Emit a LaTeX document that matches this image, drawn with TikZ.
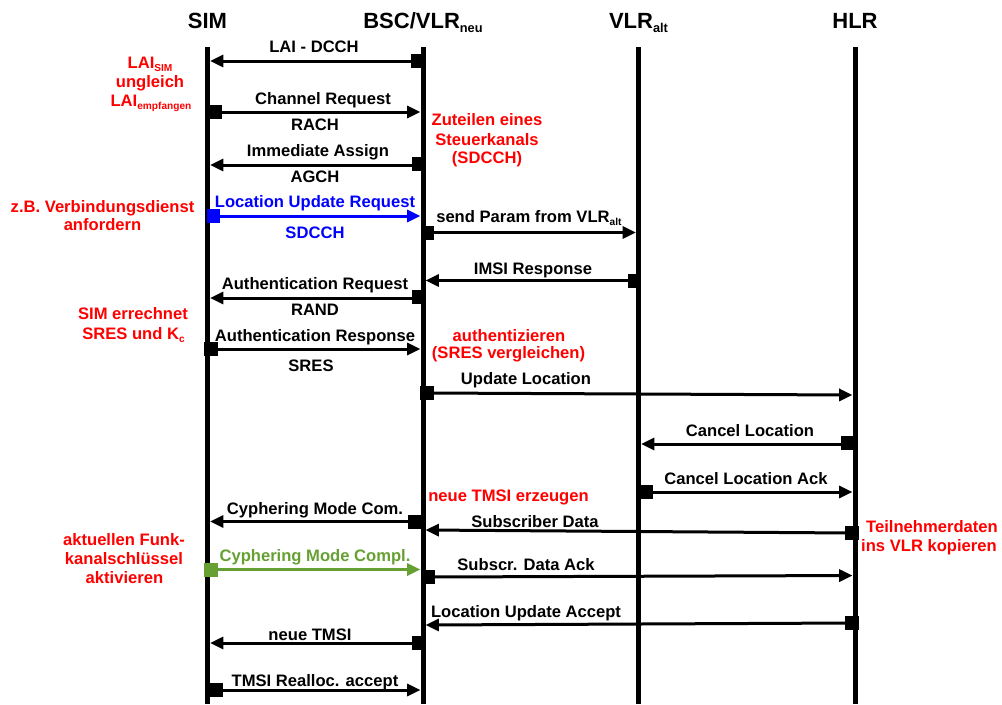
\documentclass[tikz,border=0pt]{standalone}
\usepackage{fontspec}
\setmainfont{Liberation Sans}
\usetikzlibrary{arrows.meta}
\definecolor{nred}{RGB}{255,0,0}
\definecolor{nblue}{RGB}{0,0,255}
\definecolor{ngreen}{RGB}{102,160,50}
\newcommand{\subs}[1]{\raisebox{-0.35ex}{\fontsize{7.6}{8}\selectfont #1}}
\newcommand{\hsubs}[1]{\raisebox{-0.4ex}{\fontsize{9.6}{10}\selectfont #1}}
\newcommand{\msgline}[6]{%
  \coordinate (#1s) at (#2,#3);
  \coordinate (#1e) at (#4,#5);
  \draw[msg,#6] (#1s) -- (#1e);}
\begin{document}
\begin{tikzpicture}[x=0.75pt,y=-0.75pt,
  life/.style={line width=3.75pt},
  msg/.style={line width=2.25pt,-{Triangle[length=10pt,width=9pt]}},
  sq/.style={rectangle,inner sep=0pt,minimum width=10pt,minimum height=10.5pt},
  lab/.style={font=\fontsize{12.45}{14}\selectfont\bfseries,inner sep=0pt,anchor=base},
  head/.style={font=\fontsize{16.5}{18}\selectfont\bfseries,inner sep=0pt,anchor=base},
  note/.style={font=\fontsize{12.45}{14}\selectfont\bfseries,text=nred,inner sep=0pt,anchor=base}]
\useasboundingbox (0,0) rectangle (1002,704);
% headers
\node[head] (hsim) at (207.5,28) {SIM};
\node[head] (hbsc) at (423,28) {BSC/VLR\hsubs{neu}};
\node[head] (hvlr) at (638.5,28) {VLR\hsubs{alt}};
\node[head] (hhlr) at (855,28) {HLR};
% lifelines
\coordinate (simT) at (207.5,47); \coordinate (simB) at (207.5,704);
\coordinate (bscT) at (423,47);   \coordinate (bscB) at (423,704);
\coordinate (vlrT) at (638.5,47); \coordinate (vlrB) at (638.5,704);
\coordinate (hlrT) at (855,47);   \coordinate (hlrB) at (855,704);
\draw[life] (simT) -- (simB);
\draw[life] (bscT) -- (bscB);
\draw[life] (vlrT) -- (vlrB);
\draw[life] (hlrT) -- (hlrB);
% messages
\msgline{ma}{418}{61}{210}{61}{black}
\node[sq,fill=black] (maq) at (418,60.5) {};
\node[lab] (mal) at (314,52) {LAI - DCCH};

\msgline{mb}{215}{112}{420.5}{112}{black}
\node[sq,fill=black] (mbq) at (215.5,111.5) {};
\node[lab] (mbl) at (323,104) {Channel Request};
\node[lab] (mbm) at (315,130) {RACH};

\msgline{mc}{418}{165}{210}{165}{black}
\node[sq,fill=black] (mcq) at (418.5,164) {};
\node[lab] (mcl) at (318,156) {Immediate Assign};
\node[lab] (mcm) at (315,182) {AGCH};

\msgline{md}{213.5}{216}{420.5}{216}{nblue}
\node[sq,fill=nblue] (mdq) at (213.5,216) {};
\node[lab,text=nblue] (mdl) at (315,207) {Location Update Request};
\node[lab,text=nblue] (mdm) at (315,238) {SDCCH};

\msgline{me}{427.5}{232.5}{636}{232.5}{black}
\node[sq,fill=black] (meq) at (427.5,233) {};
\node[lab,anchor=base west] (mel) at (436,222) {send Param from VLR\subs{alt}};

\msgline{mf}{634.5}{280.5}{425.5}{280.5}{black}
\node[sq,fill=black] (mfq) at (634.5,280.5) {};
\node[lab] (mfl) at (533,274) {IMSI Response};

\msgline{mg}{418.5}{298}{210}{298}{black}
\node[sq,fill=black] (mgq) at (418.5,297) {};
\node[lab] (mgl) at (315,289) {Authentication Request};
\node[lab] (mgm) at (315,315) {RAND};

\msgline{mh}{211}{349}{420.5}{349}{black}
\node[sq,fill=black] (mhq) at (211,349) {};
\node[lab] (mhl) at (315,341) {Authentication Response};
\node[lab] (mhm) at (311,371) {SRES};

\msgline{mi}{427}{393}{852.5}{395}{black}
\node[sq,fill=black] (miq) at (427,393) {};
\node[lab] (mil) at (526,384) {Update Location};

\msgline{mj}{848}{444}{641}{444}{black}
\node[sq,fill=black] (mjq) at (848,443) {};
\node[lab] (mjl) at (750,436) {Cancel Location};

\msgline{mk}{646}{492}{852.5}{492}{black}
\node[sq,fill=black] (mkq) at (646,492) {};
\node[lab] (mkl) at (746,484) {Cancel Location Ack};

\msgline{ml}{415}{521.5}{210}{521.5}{black}
\node[sq,fill=black] (mlq) at (415,521.5) {};
\node[lab] (mll) at (315,514) {Cyphering Mode Com.};

\msgline{mm}{852}{533}{425.5}{530}{black}
\node[sq,fill=black] (mmq) at (852,533) {};
\node[lab] (mml) at (535,527) {Subscriber Data};

\msgline{mn}{211}{569.5}{420.5}{569.5}{ngreen}
\node[sq,fill=ngreen] (mnq) at (211,569.5) {};
\node[lab,text=ngreen] (mnl) at (315,561) {Cyphering Mode Compl.};

\msgline{mo}{428}{577}{852.5}{575.5}{black}
\node[sq,fill=black] (moq) at (428,577) {};
\node[lab] (mol) at (526,570) {Subscr. Data Ack};

\msgline{mp}{852}{623}{425.5}{625}{black}
\node[sq,fill=black] (mpq) at (852,623) {};
\node[lab] (mpl) at (526,617) {Location Update Accept};

\msgline{mq}{418.5}{643}{210}{643}{black}
\node[sq,fill=black] (mqq) at (418.5,643) {};
\node[lab] (mql) at (310,640) {neue TMSI};

\msgline{mr}{216}{690}{420.5}{690}{black}
\node[sq,fill=black] (mrq) at (216,690) {};
\node[lab] (mrl) at (315,686) {TMSI Realloc. accept};

% red notes
\node[note] (n1a) at (150,68) {LAI\subs{SIM}};
\node[note] (n1b) at (150,87) {ungleich};
\node[note] (n1c) at (151,106) {LAI\subs{empfangen}};

\node[note] (n2a) at (487,125) {Zuteilen eines};
\node[note] (n2b) at (487,145) {Steuerkanals};
\node[note] (n2c) at (487,163) {(SDCCH)};

\node[note] (n3a) at (102.5,212) {z.B. Verbindungsdienst};
\node[note] (n3b) at (102.5,230) {anfordern};

\node[note] (n4a) at (133,319) {SIM errechnet};
\node[note] (n4b) at (133.5,339) {SRES und K\subs{c}};

\node[note] (n5a) at (509,341) {authentizieren};
\node[note] (n5b) at (508.5,358) {(SRES vergleichen)};

\node[note,anchor=base west] (n6) at (428,501) {neue TMSI erzeugen};

\node[note] (n7a) at (124,545) {aktuellen Funk-};
\node[note] (n7b) at (124,564) {kanalschlüssel};
\node[note] (n7c) at (124.5,583) {aktivieren};

\node[note] (n8a) at (932,532) {Teilnehmerdaten};
\node[note] (n8b) at (929,551) {ins VLR kopieren};
\end{tikzpicture}
\end{document}
